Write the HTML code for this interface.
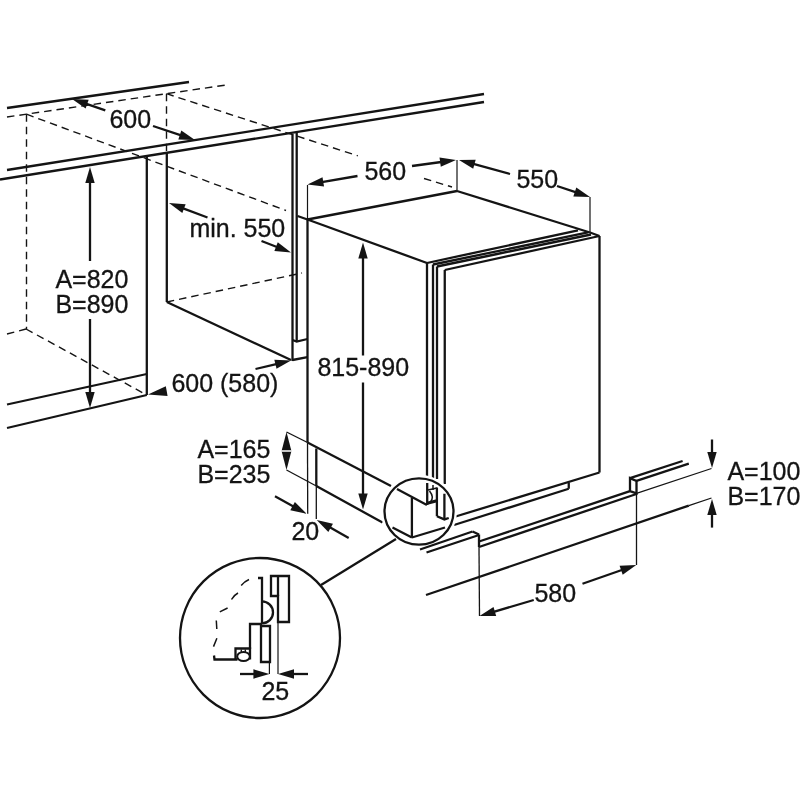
<!DOCTYPE html>
<html><head><meta charset="utf-8"><style>
html,body{margin:0;padding:0;background:#fff;}
svg{display:block;will-change:transform;}
text{font-family:"Liberation Sans",sans-serif;fill:#141414;stroke:#141414;stroke-width:0.3px;}
</style></head><body>
<svg width="800" height="800" viewBox="0 0 800 800">
<line x1="7" y1="108" x2="189" y2="82" stroke="#141414" stroke-width="2.3"/>
<line x1="7" y1="117" x2="226" y2="85" stroke="#141414" stroke-width="1.4" stroke-dasharray="7.5 5"/>
<line x1="26.5" y1="114.2" x2="26.5" y2="329" stroke="#141414" stroke-width="1.4" stroke-dasharray="7.5 5"/>
<line x1="166.5" y1="93.7" x2="166.5" y2="151" stroke="#141414" stroke-width="1.4" stroke-dasharray="7.5 5"/>
<line x1="26.5" y1="114.2" x2="286" y2="210.5" stroke="#141414" stroke-width="1.4" stroke-dasharray="7.5 5"/>
<line x1="166.5" y1="93.7" x2="357.8" y2="155.8" stroke="#141414" stroke-width="1.4" stroke-dasharray="7.5 5"/>
<line x1="424" y1="178.5" x2="452" y2="187" stroke="#141414" stroke-width="1.4" stroke-dasharray="7.5 5"/>
<line x1="7" y1="170" x2="484" y2="94" stroke="#141414" stroke-width="2.3"/>
<line x1="0" y1="179.5" x2="484" y2="102" stroke="#141414" stroke-width="2.3"/>
<line x1="146.8" y1="156" x2="146.8" y2="395" stroke="#141414" stroke-width="2.3"/>
<line x1="166.8" y1="153" x2="166.8" y2="302" stroke="#141414" stroke-width="2.3"/>
<line x1="166.8" y1="302" x2="291" y2="360" stroke="#141414" stroke-width="2.3"/>
<line x1="166.8" y1="302" x2="302" y2="273" stroke="#141414" stroke-width="1.4" stroke-dasharray="7.5 5"/>
<line x1="7" y1="334" x2="26" y2="329" stroke="#141414" stroke-width="1.4" stroke-dasharray="7.5 5"/>
<line x1="26" y1="329" x2="146.8" y2="395" stroke="#141414" stroke-width="1.4" stroke-dasharray="7.5 5"/>
<line x1="7" y1="404.5" x2="146.8" y2="374" stroke="#141414" stroke-width="2.3"/>
<line x1="7" y1="428" x2="146.8" y2="395" stroke="#141414" stroke-width="2.3"/>
<line x1="292.5" y1="134" x2="292.5" y2="361" stroke="#141414" stroke-width="2.3"/>
<line x1="296.7" y1="133" x2="296.7" y2="341.5" stroke="#141414" stroke-width="2.3"/>
<polyline points="292.5,340 296.7,341.5 307.5,339" fill="none" stroke="#141414" stroke-width="2.3" stroke-linejoin="miter"/>
<line x1="292.5" y1="360" x2="307.5" y2="357.2" stroke="#141414" stroke-width="2.3"/>
<polygon points="90,167 94.70,183.00 85.30,183.00" fill="#141414"/>
<line x1="90" y1="261" x2="90.00" y2="180.00" stroke="#141414" stroke-width="2.3"/>
<polygon points="90,408 85.30,392.00 94.70,392.00" fill="#141414"/>
<line x1="90" y1="319" x2="90.00" y2="395.00" stroke="#141414" stroke-width="2.3"/>
<text x="55.4" y="288.3" font-size="25" text-anchor="start">A=820</text>
<text x="55.4" y="313.3" font-size="25" text-anchor="start">B=890</text>
<polygon points="72,99 88.66,99.69 85.64,108.59" fill="#141414"/>
<line x1="105.3" y1="110.3" x2="84.31" y2="103.18" stroke="#141414" stroke-width="2.3"/>
<polygon points="195,140 178.33,139.40 181.31,130.48" fill="#141414"/>
<line x1="153" y1="126" x2="182.67" y2="135.89" stroke="#141414" stroke-width="2.3"/>
<text x="109.4" y="127.8" font-size="25" text-anchor="start">600</text>
<polygon points="169,203 185.63,204.24 182.32,213.04" fill="#141414"/>
<line x1="207.5" y1="217.5" x2="181.17" y2="207.58" stroke="#141414" stroke-width="2.3"/>
<polygon points="291,252.4 274.38,251.02 277.77,242.25" fill="#141414"/>
<line x1="261.5" y1="241" x2="278.87" y2="247.71" stroke="#141414" stroke-width="2.3"/>
<text x="189.4" y="237.3" font-size="25" text-anchor="start">min. 550</text>
<polygon points="291,360.5 276.53,368.80 274.35,359.65" fill="#141414"/>
<line x1="255.5" y1="369" x2="278.36" y2="363.53" stroke="#141414" stroke-width="2.3"/>
<polygon points="148,394.5 165.78,386.14 167.59,395.98" fill="#141414"/>
<text x="171.4" y="391.8" font-size="25" text-anchor="start">600 (580)</text>
<line x1="307.5" y1="185" x2="307.5" y2="219" stroke="#141414" stroke-width="1.2"/>
<line x1="307.5" y1="219" x2="307.5" y2="442.5" stroke="#141414" stroke-width="2.3"/>
<line x1="307.5" y1="442.5" x2="307.7" y2="513.8" stroke="#141414" stroke-width="1.3"/>
<line x1="297.5" y1="216" x2="307.5" y2="219.5" stroke="#141414" stroke-width="2.3"/>
<line x1="307.5" y1="219.5" x2="457" y2="191" stroke="#141414" stroke-width="2.3"/>
<line x1="457" y1="191" x2="590" y2="232.5" stroke="#141414" stroke-width="2.3"/>
<line x1="457" y1="160" x2="457" y2="191" stroke="#141414" stroke-width="1.2"/>
<line x1="590" y1="197" x2="590" y2="232.5" stroke="#141414" stroke-width="1.2"/>
<line x1="307.5" y1="219.5" x2="427" y2="263" stroke="#141414" stroke-width="2.3"/>
<polygon points="307.5,184.5 322.49,177.18 324.06,186.45" fill="#141414"/>
<line x1="357.5" y1="176" x2="320.32" y2="182.32" stroke="#141414" stroke-width="2.3"/>
<text x="364.4" y="179.8" font-size="25" text-anchor="start">560</text>
<polygon points="456,160 440.78,166.82 439.51,157.50" fill="#141414"/>
<line x1="412" y1="166" x2="443.12" y2="161.76" stroke="#141414" stroke-width="2.3"/>
<polygon points="459,160 475.67,159.70 473.19,168.77" fill="#141414"/>
<line x1="510" y1="174" x2="471.54" y2="163.44" stroke="#141414" stroke-width="2.3"/>
<text x="516.4" y="188.3" font-size="25" text-anchor="start">550</text>
<polygon points="590,197 573.33,196.40 576.31,187.48" fill="#141414"/>
<line x1="557" y1="186" x2="577.67" y2="192.89" stroke="#141414" stroke-width="2.3"/>
<line x1="427" y1="263" x2="578" y2="230.4" stroke="#141414" stroke-width="2.3"/>
<line x1="433" y1="264.5" x2="588" y2="232.4" stroke="#141414" stroke-width="2.3"/>
<line x1="437" y1="266.5" x2="591" y2="234.5" stroke="#141414" stroke-width="2.5"/>
<line x1="444.75" y1="270" x2="599.5" y2="236" stroke="#141414" stroke-width="2.3"/>
<line x1="590" y1="232.5" x2="599.5" y2="236" stroke="#141414" stroke-width="2.3"/>
<line x1="427" y1="263" x2="427" y2="476" stroke="#141414" stroke-width="2.3"/>
<line x1="433" y1="264.5" x2="433" y2="478" stroke="#141414" stroke-width="2.3"/>
<line x1="437" y1="266.5" x2="437" y2="479" stroke="#141414" stroke-width="2.3"/>
<line x1="444.75" y1="270" x2="444.75" y2="484" stroke="#141414" stroke-width="2.3"/>
<line x1="599.5" y1="236" x2="599.5" y2="472.5" stroke="#141414" stroke-width="2.3"/>
<line x1="599.5" y1="472.5" x2="454" y2="517" stroke="#141414" stroke-width="2.3"/>
<line x1="568.75" y1="482.5" x2="568.75" y2="488.75" stroke="#141414" stroke-width="2.3"/>
<line x1="568.75" y1="488.75" x2="454" y2="525" stroke="#141414" stroke-width="2.3"/>
<polygon points="363,242.5 367.70,258.50 358.30,258.50" fill="#141414"/>
<line x1="363" y1="355.5" x2="363.00" y2="255.50" stroke="#141414" stroke-width="2.3"/>
<polygon points="363,509.5 358.30,493.50 367.70,493.50" fill="#141414"/>
<line x1="363" y1="382.5" x2="363.00" y2="496.50" stroke="#141414" stroke-width="2.3"/>
<text x="317.4" y="376.3" font-size="25" text-anchor="start">815-890</text>
<line x1="286.5" y1="432" x2="307.5" y2="442.5" stroke="#141414" stroke-width="1.3"/>
<line x1="307.5" y1="442.5" x2="391" y2="486" stroke="#141414" stroke-width="2.3"/>
<line x1="286.5" y1="470" x2="316.3" y2="486" stroke="#141414" stroke-width="1.3"/>
<line x1="316.3" y1="486" x2="382.5" y2="522.5" stroke="#141414" stroke-width="2.3"/>
<line x1="316.3" y1="448.5" x2="316.3" y2="486" stroke="#141414" stroke-width="2.3"/>
<line x1="316.3" y1="486" x2="316.3" y2="519" stroke="#141414" stroke-width="1.3"/>
<polygon points="286.5,432 291.30,450.50 281.70,450.50" fill="#141414"/>
<polygon points="286.5,470 281.70,451.50 291.30,451.50" fill="#141414"/>
<line x1="282" y1="451" x2="291" y2="451" stroke="#fff" stroke-width="1"/>
<text x="197.4" y="458.3" font-size="25" text-anchor="start">A=165</text>
<text x="197.4" y="483.3" font-size="25" text-anchor="start">B=235</text>
<polygon points="306.6,513.75 290.32,510.13 294.87,501.90" fill="#141414"/>
<line x1="275" y1="496.3" x2="295.22" y2="507.47" stroke="#141414" stroke-width="2.3"/>
<polygon points="316.7,520 332.95,523.75 328.34,531.94" fill="#141414"/>
<line x1="348.7" y1="538" x2="328.03" y2="526.37" stroke="#141414" stroke-width="2.3"/>
<text x="291.4" y="540.3" font-size="25" text-anchor="start">20</text>
<line x1="479" y1="534.5" x2="479" y2="547" stroke="#141414" stroke-width="2.3"/>
<line x1="479" y1="547" x2="479.5" y2="616" stroke="#141414" stroke-width="1.3"/>
<line x1="479" y1="541.5" x2="630" y2="491.2" stroke="#141414" stroke-width="2.3"/>
<line x1="479" y1="547" x2="636.5" y2="494" stroke="#141414" stroke-width="2.3"/>
<polyline points="630,491.2 630,478.1 636.5,480.9 636.5,493.3 630,491.2" fill="none" stroke="#141414" stroke-width="2.3" stroke-linejoin="miter"/>
<line x1="630" y1="478.1" x2="682.6" y2="461" stroke="#141414" stroke-width="2.3"/>
<line x1="636.5" y1="480.9" x2="688.8" y2="463.7" stroke="#141414" stroke-width="2.3"/>
<line x1="636.5" y1="493.3" x2="711.5" y2="468.5" stroke="#141414" stroke-width="1.3"/>
<line x1="636.5" y1="493.3" x2="636.5" y2="565" stroke="#141414" stroke-width="1.3"/>
<line x1="426" y1="595" x2="688.8" y2="505.6" stroke="#141414" stroke-width="2.3"/>
<line x1="688.8" y1="505.6" x2="711.5" y2="498" stroke="#141414" stroke-width="1.3"/>
<polygon points="712,468 707.30,452.00 716.70,452.00" fill="#141414"/>
<line x1="712" y1="439.5" x2="712.00" y2="455.00" stroke="#141414" stroke-width="2.3"/>
<polygon points="712,499 716.70,515.00 707.30,515.00" fill="#141414"/>
<line x1="712" y1="527.6" x2="712.00" y2="512.00" stroke="#141414" stroke-width="2.3"/>
<text x="727.4" y="479.8" font-size="25" text-anchor="start">A=100</text>
<text x="727.4" y="504.8" font-size="25" text-anchor="start">B=170</text>
<polygon points="479.5,616 493.52,606.97 496.18,615.98" fill="#141414"/>
<line x1="533.75" y1="600" x2="491.97" y2="612.32" stroke="#141414" stroke-width="2.3"/>
<polygon points="636.25,565 622.69,574.71 619.59,565.83" fill="#141414"/>
<line x1="582.5" y1="583.75" x2="623.98" y2="569.28" stroke="#141414" stroke-width="2.3"/>
<text x="534.4" y="602.3" font-size="25" text-anchor="start">580</text>
<ellipse cx="419" cy="511.5" rx="34.5" ry="33.2" fill="none" stroke="#fff" stroke-width="7"/>
<ellipse cx="419" cy="511.5" rx="34.5" ry="33.2" fill="none" stroke="#141414" stroke-width="2.3"/>
<line x1="397" y1="489" x2="426.9" y2="505" stroke="#141414" stroke-width="2.3"/>
<line x1="392.5" y1="527.5" x2="411.9" y2="537.5" stroke="#141414" stroke-width="2.3"/>
<line x1="411.9" y1="498" x2="411.9" y2="537.5" stroke="#141414" stroke-width="2.3"/>
<line x1="411.9" y1="537.5" x2="445" y2="527.5" stroke="#141414" stroke-width="2.3"/>
<line x1="420" y1="549.5" x2="472.5" y2="531.5" stroke="#141414" stroke-width="2.3"/>
<line x1="472.5" y1="531.5" x2="479" y2="534.5" stroke="#141414" stroke-width="2.3"/>
<line x1="426.5" y1="552.5" x2="479" y2="535" stroke="#141414" stroke-width="2.3"/>
<line x1="427.2" y1="483" x2="427.2" y2="505" stroke="#141414" stroke-width="2.3"/>
<line x1="436.9" y1="487.5" x2="436.9" y2="516.25" stroke="#141414" stroke-width="2.3"/>
<line x1="444.4" y1="493.75" x2="444.4" y2="519.4" stroke="#141414" stroke-width="2.3"/>
<polyline points="436.9,516.25 444.4,519.4 448.75,518" fill="none" stroke="#141414" stroke-width="2.3" stroke-linejoin="miter"/>
<line x1="428" y1="490" x2="436.9" y2="488" stroke="#141414" stroke-width="1.5"/>
<line x1="427.2" y1="503.3" x2="436.9" y2="500.8" stroke="#141414" stroke-width="3"/>
<path d="M429.5,491 Q434.5,497 430.5,502" fill="none" stroke="#141414" stroke-width="1.5"/>
<line x1="433" y1="485" x2="433" y2="490" stroke="#141414" stroke-width="1.5"/>
<line x1="396" y1="539" x2="321" y2="585" stroke="#141414" stroke-width="2.3"/>
<circle cx="260" cy="638" r="80" fill="none" stroke="#141414" stroke-width="2.3"/>
<polyline points="258,578 262,578 262,624" fill="none" stroke="#141414" stroke-width="2.3" stroke-linejoin="miter"/>
<path d="M262,601.4 A11,11 0 0 1 262,623.4" fill="none" stroke="#141414" stroke-width="2.3"/>
<polygon points="271,576 289,576 289,622 278,622 278,596 271,596 271,576" fill="none" stroke="#141414" stroke-width="2.3" stroke-linejoin="miter"/>
<line x1="278" y1="576" x2="278" y2="596" stroke="#141414" stroke-width="2.3"/>
<polygon points="261,626 270,626 270,662 261,662" fill="none" stroke="#141414" stroke-width="2.3" stroke-linejoin="miter"/>
<polyline points="262,624 250,624 250,649" fill="none" stroke="#141414" stroke-width="2.3" stroke-linejoin="miter"/>
<polyline points="235.5,659.5 235.5,648.5 250,648.5 250,659.5" fill="none" stroke="#141414" stroke-width="2.3" stroke-linejoin="miter"/>
<ellipse cx="243.5" cy="656.5" rx="6.3" ry="4.6" fill="#fff" stroke="#141414" stroke-width="2"/>
<line x1="241.3" y1="649.5" x2="241.3" y2="652.5" stroke="#141414" stroke-width="1.4"/>
<line x1="245.3" y1="649.5" x2="245.3" y2="652.5" stroke="#141414" stroke-width="1.4"/>
<polyline points="214,655.5 214.5,659.5 237.5,659.5" fill="none" stroke="#141414" stroke-width="2.3" stroke-linejoin="miter"/>
<path d="M249,579.5 Q244.5,581.5 241.2,585.4 M238,593 Q233.5,595.5 231.5,599.5 M227.6,608 L219.8,611.8 M216.3,620.5 L216.8,629 M216.9,638.3 L213.5,646.6" fill="none" stroke="#141414" stroke-width="1.5"/>
<line x1="269.4" y1="662" x2="269.4" y2="674" stroke="#141414" stroke-width="1.2"/>
<line x1="278" y1="622" x2="278" y2="674" stroke="#141414" stroke-width="1.2"/>
<polygon points="269.4,674 253.40,678.70 253.40,669.30" fill="#141414"/>
<line x1="240" y1="674" x2="256.40" y2="674.00" stroke="#141414" stroke-width="2.3"/>
<polygon points="278,674 294.00,669.30 294.00,678.70" fill="#141414"/>
<line x1="308" y1="674" x2="291.00" y2="674.00" stroke="#141414" stroke-width="2.3"/>
<text x="261.4" y="700.3" font-size="25" text-anchor="start">25</text>
</svg></body></html>
